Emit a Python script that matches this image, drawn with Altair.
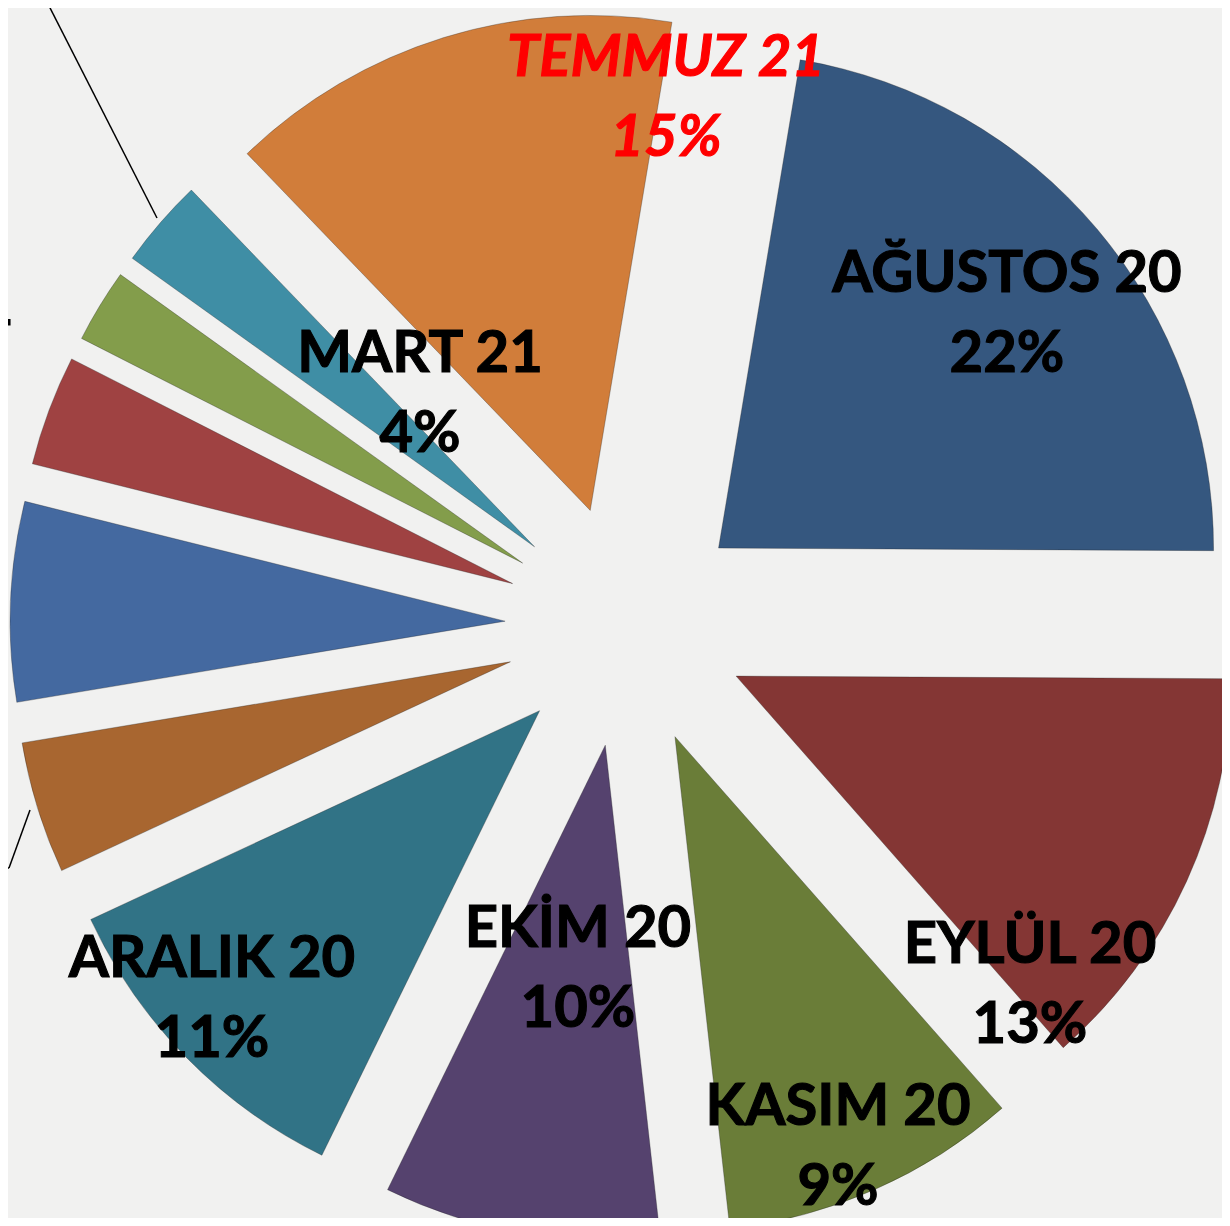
import altair as alt
import pandas as pd

# ---- data ----
months = ["AĞUSTOS 20", "EYLÜL 20", "EKİM 20", "KASIM 20", "ARALIK 20",
          "OCAK 21", "ŞUBAT 21", "MART 21", "NİSAN 21", "HAZİRAN 21", "TEMMUZ 21"]
values = [22.4, 13.4, 9.7, 9.0, 10.8, 4.3, 6.5, 3.6, 2.4, 2.9, 14.8]
colors = ["#35577F", "#843634", "#6A7D38", "#55426E", "#317386",
          "#A86630", "#4469A0", "#9F4242", "#839D4B", "#3F8EA5", "#D17D3A"]

# ---- layout (not data) ----
W, H = 1214, 1210
CX, CY = 618, 618          # pie centre inside the view
R = 495                    # outer radius
EXPLODE = 121              # explosion distance
ROT = 9.5                  # angle of first slice, degrees
FONT = "Lato"
FS = 58
LINE = 80
BG = "#F1F1F0"

# label anchors: centre x, first-line baseline y (view coordinates)
label_pos = {
    "AĞUSTOS 20": (999, 284),
    "EYLÜL 20": (1022, 955),
    "KASIM 20": (830, 1117),
    "EKİM 20": (570, 939),
    "ARALIK 20": (204, 969),
    "MART 21": (412, 364),
    "NİSAN 21": (-124, 317),
    "TEMMUZ 21": (658, 68),
}

# leader lines (view coordinates)
leaders = pd.DataFrame({
    "x": [38, -8, 1], "y": [-8, 860, 860],
    "x2": [149, 1, 22], "y2": [210, 860, 802],
})

df = pd.DataFrame({"month": months, "value": values, "order": range(len(months))})

lab = df.copy()
lab["lx"] = [label_pos.get(m, (None, None))[0] for m in months]
lab["ly"] = [label_pos.get(m, (None, None))[1] for m in months]

color_scale = alt.Scale(domain=months, range=colors)

def pie_transforms(ch):
    rot = f"({ROT}*PI/180)"
    return (ch.transform_joinaggregate(total="sum(value)")
              .transform_window(cum="sum(value)", frame=[None, 0],
                                sort=[alt.SortField("order")])
              .transform_calculate(
                  t0=f"{rot} + 2*PI*(datum.cum - datum.value)/datum.total",
                  t1=f"{rot} + 2*PI*datum.cum/datum.total",
                  pct="round(100*datum.value/datum.total) + '%'")
              .transform_calculate(mid="(datum.t0 + datum.t1)/2")
              .transform_calculate(
                  cx=f"{CX} + {EXPLODE}*sin(datum.mid)",
                  cy=f"{CY} - {EXPLODE}*cos(datum.mid)"))

arcs = pie_transforms(alt.Chart(df)).mark_arc(
    outerRadius=R, clip=True, stroke="#1e1e1e", strokeOpacity=0.3, strokeWidth=1
).encode(
    theta=alt.Theta("t0:Q", scale=None),
    theta2="t1:Q",
    x=alt.X("cx:Q", scale=None),
    y=alt.Y("cy:Q", scale=None),
    color=alt.Color("month:N", scale=color_scale, legend=None),
    order=alt.Order("order:Q"),
)

lab_base = pie_transforms(alt.Chart(lab)).transform_filter("isValid(datum.lx)")

def label_layer(base, color, style, flt):
    b = base.transform_filter(flt)
    props = dict(font=FONT, fontSize=FS, fontWeight="bold", fontStyle=style,
                 color=color, stroke=color, strokeWidth=1.1,
                 align="center", baseline="alphabetic", clip=True)
    name = b.mark_text(**props).encode(
        x=alt.X("lx:Q", scale=None), y=alt.Y("ly:Q", scale=None), text="month:N")
    pct = b.transform_calculate(ly2=f"datum.ly + {LINE}").mark_text(**props).encode(
        x=alt.X("lx:Q", scale=None), y=alt.Y("ly2:Q", scale=None), text="pct:N")
    return name + pct

normal = label_layer(lab_base, "#000000", "normal", "datum.month != 'TEMMUZ 21'")
red = label_layer(lab_base, "#FF0000", "italic", "datum.month == 'TEMMUZ 21'")

rules = alt.Chart(leaders).mark_rule(color="#000000", strokeWidth=1.5, clip=True).encode(
    x=alt.X("x:Q", scale=None), y=alt.Y("y:Q", scale=None),
    x2="x2:Q", y2="y2:Q")

chart = alt.layer(arcs, rules, normal, red).properties(
    width=W, height=H, padding=0, autosize="none", background=BG
).configure_view(strokeWidth=0)

chart.save("out.html", embed_options={"renderer": "svg", "actions": False})
